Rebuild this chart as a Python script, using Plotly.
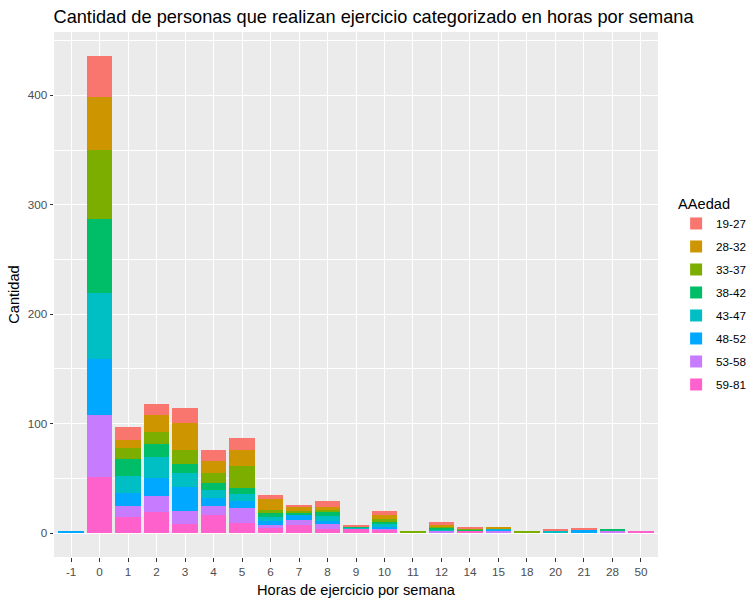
import plotly.graph_objects as go

categories = ["-1", "0", "1", "2", "3", "4", "5", "6", "7", "8", "9", "10",
              "11", "12", "14", "15", "18", "20", "21", "28", "50"]

age_groups = ["19-27", "28-32", "33-37", "38-42", "43-47", "48-52", "53-58", "59-81"]
colors = ["#F8766D", "#CD9600", "#7CAE00", "#00BE67", "#00BFC4", "#00A9FF", "#C77CFF", "#FF61CC"]

# counts per category (same order as categories)
v_19_27 = [0, 38, 12, 10, 13, 10, 11, 4, 2, 5, 1, 3, 0, 3, 2, 0, 0, 1, 1, 0, 0]
v_28_32 = [0, 48, 7, 16, 25, 11, 15, 10, 4, 3, 0, 4, 0, 1, 0, 1, 0, 0, 0, 0, 0]
v_33_37 = [0, 63, 10, 11, 13, 9, 20, 3, 2, 2, 0, 3, 2, 1, 1, 0, 2, 0, 0, 0, 0]
v_38_42 = [0, 68, 16, 11, 8, 7, 5, 3, 1, 3, 1, 2, 0, 2, 1, 0, 0, 0, 0, 1, 0]
v_43_47 = [0, 60, 15, 20, 13, 7, 7, 4, 0, 5, 1, 2, 0, 1, 0, 1, 0, 2, 0, 0, 0]
v_48_52 = [2, 51, 12, 16, 22, 7, 6, 4, 5, 3, 0, 2, 0, 0, 0, 1, 0, 0, 3, 0, 0]
v_53_58 = [0, 57, 10, 15, 12, 8, 14, 2, 5, 4, 0, 1, 0, 2, 0, 2, 0, 0, 0, 2, 0]
v_59_81 = [0, 51, 15, 19, 8, 17, 9, 5, 7, 4, 4, 3, 0, 0, 2, 0, 0, 0, 0, 0, 2]

series = {
    "19-27": v_19_27, "28-32": v_28_32, "33-37": v_33_37, "38-42": v_38_42,
    "43-47": v_43_47, "48-52": v_48_52, "53-58": v_53_58, "59-81": v_59_81,
}

FONT = "Liberation Sans, Arial, sans-serif"

fig = go.Figure()
# bottom of stack first (59-81), top last (19-27); legend lists 19-27 first
for rank, (name, col) in reversed(list(enumerate(zip(age_groups, colors)))):
    fig.add_trace(go.Bar(
        x=categories, y=series[name], name=name,
        marker=dict(color=col, line=dict(width=0)),
        legendgroup=name, legendrank=rank + 1,
    ))

W, H = 756, 603
fig.update_layout(
    width=W, height=H,
    barmode="stack", bargap=0.1,
    paper_bgcolor="white", plot_bgcolor="#EBEBEB",
    margin=dict(l=53.5, r=98, t=32, b=46, autoexpand=False),
    font=dict(family=FONT, color="black"),
    title=dict(
        text="Cantidad de personas que realizan ejercicio categorizado en horas por semana",
        font=dict(size=18.2, color="black", family=FONT),
        x=53.5 / W, xref="container", xanchor="left",
        y=1 - 17 / H, yref="container", yanchor="middle",
    ),
    legend=dict(
        title=dict(text="AAedad", font=dict(size=14.6, color="black")),
        font=dict(size=11.7, color="black"),
        traceorder="grouped", tracegroupgap=4,
        x=1.03, xanchor="left", y=0.5, yanchor="middle",
        bgcolor="rgba(0,0,0,0)",
    ),
    showlegend=True,
)

fig.update_xaxes(
    type="category", categoryorder="array", categoryarray=categories,
    range=[-0.6, len(categories) - 1 + 0.6],
    showgrid=True, gridcolor="white", gridwidth=1.1,
    ticks="outside", ticklen=3.5, tickwidth=1.1, tickcolor="#333333",
    tickfont=dict(size=11.7, color="#4D4D4D"),
    title=dict(text="Horas de ejercicio por semana", font=dict(size=14.6, color="black"), standoff=8),
    zeroline=False, showline=False,
)
fig.update_yaxes(
    range=[-21.8, 457.8],
    tickvals=[0, 100, 200, 300, 400],
    showgrid=True, gridcolor="white", gridwidth=1.1,
    minor=dict(tickvals=[50, 150, 250, 350, 450], showgrid=True, gridcolor="white", gridwidth=0.55, ticks=""),
    ticks="outside", ticklen=3.5, tickwidth=1.1, tickcolor="#333333",
    tickfont=dict(size=11.7, color="#4D4D4D"),
    title=dict(text="Cantidad", font=dict(size=14.6, color="black"), standoff=4),
    zeroline=False, showline=False,
)

fig.write_html(
    "out.html",
    config={"displayModeBar": False},
    post_script="document.body.style.margin='0';document.body.style.overflow='hidden';",
)
